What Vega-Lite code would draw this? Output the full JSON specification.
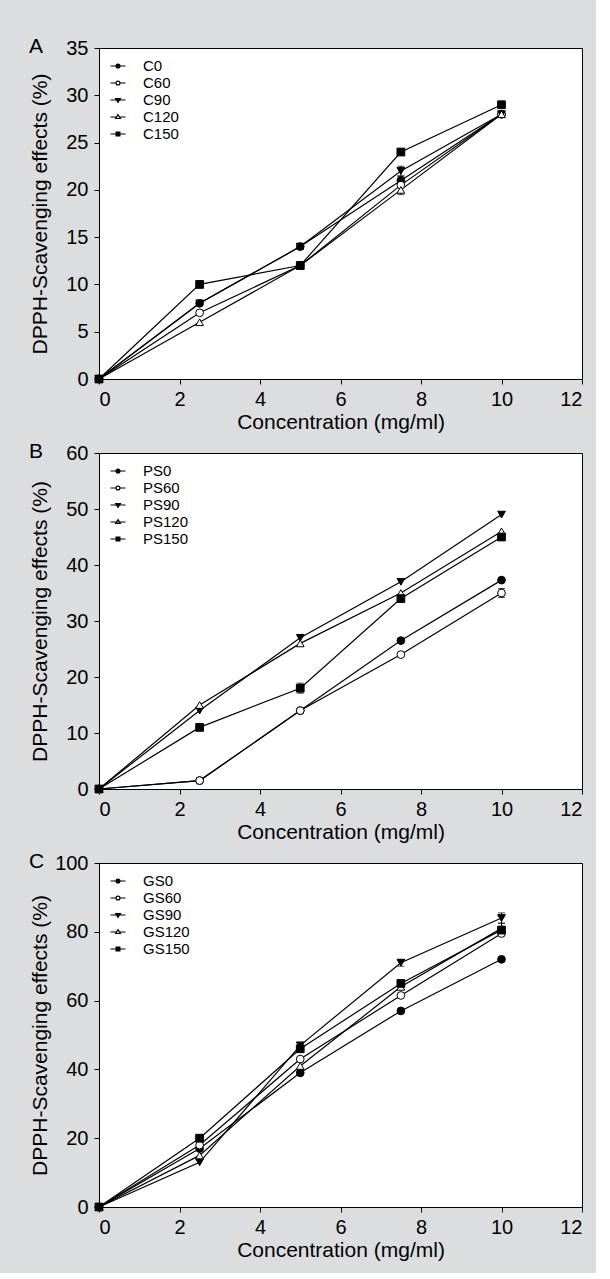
{
  "$schema": "https://vega.github.io/schema/vega-lite/v6.json",
  "background": "#dcdddf",
  "padding": {"left": 28, "top": 35, "right": 13, "bottom": 12},
  "spacing": 7,
  "datasets": {
    "A": [
      {"conc": 0, "y": 0, "s": "C0", "err": 0}, {"conc": 2.5, "y": 8, "s": "C0", "err": 0}, {"conc": 5, "y": 14, "s": "C0", "err": 0.3}, {"conc": 7.5, "y": 21, "s": "C0", "err": 0.4}, {"conc": 10, "y": 28, "s": "C0", "err": 0},
      {"conc": 0, "y": 0, "s": "C60", "err": 0}, {"conc": 2.5, "y": 7, "s": "C60", "err": 0}, {"conc": 5, "y": 12, "s": "C60", "err": 0}, {"conc": 7.5, "y": 20.5, "s": "C60", "err": 0}, {"conc": 10, "y": 28, "s": "C60", "err": 0},
      {"conc": 0, "y": 0, "s": "C90", "err": 0}, {"conc": 2.5, "y": 8, "s": "C90", "err": 0}, {"conc": 5, "y": 14, "s": "C90", "err": 0}, {"conc": 7.5, "y": 22, "s": "C90", "err": 0.5}, {"conc": 10, "y": 28, "s": "C90", "err": 0},
      {"conc": 0, "y": 0, "s": "C120", "err": 0}, {"conc": 2.5, "y": 6, "s": "C120", "err": 0}, {"conc": 5, "y": 12, "s": "C120", "err": 0}, {"conc": 7.5, "y": 20, "s": "C120", "err": 0.5}, {"conc": 10, "y": 28, "s": "C120", "err": 0},
      {"conc": 0, "y": 0, "s": "C150", "err": 0}, {"conc": 2.5, "y": 10, "s": "C150", "err": 0}, {"conc": 5, "y": 12, "s": "C150", "err": 0.4}, {"conc": 7.5, "y": 24, "s": "C150", "err": 0}, {"conc": 10, "y": 29, "s": "C150", "err": 0}
    ],
    "B": [
      {"conc": 0, "y": 0, "s": "PS0", "err": 0}, {"conc": 2.5, "y": 1.5, "s": "PS0", "err": 0}, {"conc": 5, "y": 14, "s": "PS0", "err": 0}, {"conc": 7.5, "y": 26.5, "s": "PS0", "err": 0}, {"conc": 10, "y": 37.3, "s": "PS0", "err": 0},
      {"conc": 0, "y": 0, "s": "PS60", "err": 0}, {"conc": 2.5, "y": 1.5, "s": "PS60", "err": 0}, {"conc": 5, "y": 14, "s": "PS60", "err": 0}, {"conc": 7.5, "y": 24, "s": "PS60", "err": 0}, {"conc": 10, "y": 35, "s": "PS60", "err": 0.8},
      {"conc": 0, "y": 0, "s": "PS90", "err": 0}, {"conc": 2.5, "y": 14, "s": "PS90", "err": 0}, {"conc": 5, "y": 27, "s": "PS90", "err": 0}, {"conc": 7.5, "y": 37, "s": "PS90", "err": 0}, {"conc": 10, "y": 49, "s": "PS90", "err": 0},
      {"conc": 0, "y": 0, "s": "PS120", "err": 0}, {"conc": 2.5, "y": 15, "s": "PS120", "err": 0}, {"conc": 5, "y": 26, "s": "PS120", "err": 0}, {"conc": 7.5, "y": 35, "s": "PS120", "err": 0}, {"conc": 10, "y": 46, "s": "PS120", "err": 0},
      {"conc": 0, "y": 0, "s": "PS150", "err": 0}, {"conc": 2.5, "y": 11, "s": "PS150", "err": 0}, {"conc": 5, "y": 18, "s": "PS150", "err": 0.9}, {"conc": 7.5, "y": 34, "s": "PS150", "err": 0}, {"conc": 10, "y": 45, "s": "PS150", "err": 0.5}
    ],
    "C": [
      {"conc": 0, "y": 0, "s": "GS0", "err": 0}, {"conc": 2.5, "y": 17, "s": "GS0", "err": 0}, {"conc": 5, "y": 39, "s": "GS0", "err": 0}, {"conc": 7.5, "y": 57, "s": "GS0", "err": 0}, {"conc": 10, "y": 72, "s": "GS0", "err": 0},
      {"conc": 0, "y": 0, "s": "GS60", "err": 0}, {"conc": 2.5, "y": 18, "s": "GS60", "err": 0}, {"conc": 5, "y": 43, "s": "GS60", "err": 0}, {"conc": 7.5, "y": 61.5, "s": "GS60", "err": 0}, {"conc": 10, "y": 79.5, "s": "GS60", "err": 0},
      {"conc": 0, "y": 0, "s": "GS90", "err": 0}, {"conc": 2.5, "y": 13, "s": "GS90", "err": 0}, {"conc": 5, "y": 47, "s": "GS90", "err": 0}, {"conc": 7.5, "y": 71, "s": "GS90", "err": 1}, {"conc": 10, "y": 84, "s": "GS90", "err": 1.5},
      {"conc": 0, "y": 0, "s": "GS120", "err": 0}, {"conc": 2.5, "y": 15, "s": "GS120", "err": 0}, {"conc": 5, "y": 41, "s": "GS120", "err": 0}, {"conc": 7.5, "y": 64, "s": "GS120", "err": 0}, {"conc": 10, "y": 81, "s": "GS120", "err": 1.5},
      {"conc": 0, "y": 0, "s": "GS150", "err": 0}, {"conc": 2.5, "y": 20, "s": "GS150", "err": 0}, {"conc": 5, "y": 46, "s": "GS150", "err": 0}, {"conc": 7.5, "y": 65, "s": "GS150", "err": 0}, {"conc": 10, "y": 80.5, "s": "GS150", "err": 0}
    ]
  },
  "vconcat": [
    {
      "title": {"text": "A", "anchor": "start", "frame": "bounds", "dy": 22.5},
      "width": 483, "height": 331,
      "data": {"name": "A"},
      "encoding": {
        "x": {"field": "conc", "type": "quantitative", "scale": {"domain": [0, 12], "nice": false}, "axis": {"values": [0, 2, 4, 6, 8, 10, 12], "title": "Concentration (mg/ml)"}},
        "y": {"field": "y", "type": "quantitative", "scale": {"domain": [0, 35], "nice": false}, "axis": {"values": [0, 5, 10, 15, 20, 25, 30, 35], "title": "DPPH-Scavenging effects (%)"}}
      },
      "layer": [
        {"mark": {"type": "line", "color": "black", "strokeWidth": 1.2}, "encoding": {"detail": {"field": "s"}}},
        {"transform": [{"filter": "datum.err > 0"}], "mark": {"type": "errorbar", "ticks": {"size": 7, "color": "black"}, "rule": {"color": "black"}}, "encoding": {"yError": {"field": "err"}}},
        {"mark": {"type": "point", "size": 60, "stroke": "black", "strokeWidth": 1, "opacity": 1},
         "encoding": {
           "shape": {"condition": [{"test": "datum.s === 'C90'", "value": "triangle-down"}, {"test": "datum.s === 'C120'", "value": "triangle-up"}, {"test": "datum.s === 'C150'", "value": "square"}], "value": "circle"},
           "fill": {"condition": {"test": "datum.s === 'C60' || datum.s === 'C120'", "value": "white"}, "value": "black"}
         }},
        {"transform": [{"filter": "datum.conc > 100"}],
         "mark": {"type": "point", "strokeWidth": 1.2, "opacity": 1},
         "encoding": {
           "shape": {"field": "s", "title": null, "scale": {"domain": ["C0", "C60", "C90", "C120", "C150"], "range": [
             "M-0.94,0H-0.245M0.245,0H0.94M0.245,0A0.245,0.245 0 1,1 -0.245,0A0.245,0.245 0 1,1 0.245,0Z",
             "M-0.94,0H-0.245M0.245,0H0.94M0.245,0A0.245,0.245 0 1,1 -0.245,0A0.245,0.245 0 1,1 0.245,0Z",
             "M-0.94,0H-0.17M0.17,0H0.94M-0.29,-0.19H0.29L0,0.29Z",
             "M-0.94,0H-0.17M0.17,0H0.94M-0.29,0.19H0.29L0,-0.29Z",
             "M-0.94,0H-0.235M0.235,0H0.94M-0.235,-0.235H0.235V0.235H-0.235Z"]}},
           "fill": {"field": "s", "title": null, "scale": {"domain": ["C0", "C60", "C90", "C120", "C150"], "range": ["black", "white", "black", "white", "black"]}},
           "stroke": {"field": "s", "title": null, "scale": {"domain": ["C0", "C60", "C90", "C120", "C150"], "range": ["black", "black", "black", "black", "black"]}}
         }}
      ]
    },
    {
      "title": {"text": "B", "anchor": "start", "frame": "bounds", "dy": 22.5},
      "width": 483, "height": 336,
      "data": {"name": "B"},
      "encoding": {
        "x": {"field": "conc", "type": "quantitative", "scale": {"domain": [0, 12], "nice": false}, "axis": {"values": [0, 2, 4, 6, 8, 10, 12], "title": "Concentration (mg/ml)"}},
        "y": {"field": "y", "type": "quantitative", "scale": {"domain": [0, 60], "nice": false}, "axis": {"values": [0, 10, 20, 30, 40, 50, 60], "title": "DPPH-Scavenging effects (%)"}}
      },
      "layer": [
        {"mark": {"type": "line", "color": "black", "strokeWidth": 1.2}, "encoding": {"detail": {"field": "s"}}},
        {"transform": [{"filter": "datum.err > 0"}], "mark": {"type": "errorbar", "ticks": {"size": 7, "color": "black"}, "rule": {"color": "black"}}, "encoding": {"yError": {"field": "err"}}},
        {"mark": {"type": "point", "size": 60, "stroke": "black", "strokeWidth": 1, "opacity": 1},
         "encoding": {
           "shape": {"condition": [{"test": "datum.s === 'PS90'", "value": "triangle-down"}, {"test": "datum.s === 'PS120'", "value": "triangle-up"}, {"test": "datum.s === 'PS150'", "value": "square"}], "value": "circle"},
           "fill": {"condition": {"test": "datum.s === 'PS60' || datum.s === 'PS120'", "value": "white"}, "value": "black"}
         }},
        {"transform": [{"filter": "datum.conc > 100"}],
         "mark": {"type": "point", "strokeWidth": 1.2, "opacity": 1},
         "encoding": {
           "shape": {"field": "s", "title": null, "scale": {"domain": ["PS0", "PS60", "PS90", "PS120", "PS150"], "range": [
             "M-0.94,0H-0.245M0.245,0H0.94M0.245,0A0.245,0.245 0 1,1 -0.245,0A0.245,0.245 0 1,1 0.245,0Z",
             "M-0.94,0H-0.245M0.245,0H0.94M0.245,0A0.245,0.245 0 1,1 -0.245,0A0.245,0.245 0 1,1 0.245,0Z",
             "M-0.94,0H-0.17M0.17,0H0.94M-0.29,-0.19H0.29L0,0.29Z",
             "M-0.94,0H-0.17M0.17,0H0.94M-0.29,0.19H0.29L0,-0.29Z",
             "M-0.94,0H-0.235M0.235,0H0.94M-0.235,-0.235H0.235V0.235H-0.235Z"]}},
           "fill": {"field": "s", "title": null, "scale": {"domain": ["PS0", "PS60", "PS90", "PS120", "PS150"], "range": ["black", "white", "black", "#8a8a8a", "black"]}},
           "stroke": {"field": "s", "title": null, "scale": {"domain": ["PS0", "PS60", "PS90", "PS120", "PS150"], "range": ["black", "black", "black", "black", "black"]}}
         }}
      ]
    },
    {
      "title": {"text": "C", "anchor": "start", "frame": "bounds", "dy": 22.5},
      "width": 483, "height": 344,
      "data": {"name": "C"},
      "encoding": {
        "x": {"field": "conc", "type": "quantitative", "scale": {"domain": [0, 12], "nice": false}, "axis": {"values": [0, 2, 4, 6, 8, 10, 12], "title": "Concentration (mg/ml)"}},
        "y": {"field": "y", "type": "quantitative", "scale": {"domain": [0, 100], "nice": false}, "axis": {"values": [0, 20, 40, 60, 80, 100], "title": "DPPH-Scavenging effects (%)"}}
      },
      "layer": [
        {"mark": {"type": "line", "color": "black", "strokeWidth": 1.2}, "encoding": {"detail": {"field": "s"}}},
        {"transform": [{"filter": "datum.err > 0"}], "mark": {"type": "errorbar", "ticks": {"size": 7, "color": "black"}, "rule": {"color": "black"}}, "encoding": {"yError": {"field": "err"}}},
        {"mark": {"type": "point", "size": 60, "stroke": "black", "strokeWidth": 1, "opacity": 1},
         "encoding": {
           "shape": {"condition": [{"test": "datum.s === 'GS90'", "value": "triangle-down"}, {"test": "datum.s === 'GS120'", "value": "triangle-up"}, {"test": "datum.s === 'GS150'", "value": "square"}], "value": "circle"},
           "fill": {"condition": {"test": "datum.s === 'GS60' || datum.s === 'GS120'", "value": "white"}, "value": "black"}
         }},
        {"transform": [{"filter": "datum.conc > 100"}],
         "mark": {"type": "point", "strokeWidth": 1.2, "opacity": 1},
         "encoding": {
           "shape": {"field": "s", "title": null, "scale": {"domain": ["GS0", "GS60", "GS90", "GS120", "GS150"], "range": [
             "M-0.94,0H-0.245M0.245,0H0.94M0.245,0A0.245,0.245 0 1,1 -0.245,0A0.245,0.245 0 1,1 0.245,0Z",
             "M-0.94,0H-0.245M0.245,0H0.94M0.245,0A0.245,0.245 0 1,1 -0.245,0A0.245,0.245 0 1,1 0.245,0Z",
             "M-0.94,0H-0.17M0.17,0H0.94M-0.29,-0.19H0.29L0,0.29Z",
             "M-0.94,0H-0.17M0.17,0H0.94M-0.29,0.19H0.29L0,-0.29Z",
             "M-0.94,0H-0.235M0.235,0H0.94M-0.235,-0.235H0.235V0.235H-0.235Z"]}},
           "fill": {"field": "s", "title": null, "scale": {"domain": ["GS0", "GS60", "GS90", "GS120", "GS150"], "range": ["black", "white", "black", "white", "black"]}},
           "stroke": {"field": "s", "title": null, "scale": {"domain": ["GS0", "GS60", "GS90", "GS120", "GS150"], "range": ["black", "black", "black", "black", "black"]}}
         }}
      ]
    }
  ],
  "resolve": {"scale": {"shape": "independent", "fill": "independent", "stroke": "independent"}, "legend": {"shape": "independent", "fill": "independent", "stroke": "independent"}},
  "config": {
    "font": "Liberation Sans",
    "view": {"fill": "white", "stroke": "black", "strokeWidth": 1},
    "title": {"fontSize": 21, "fontWeight": "normal", "color": "black"},
    "axis": {"grid": false, "domainColor": "black", "tickColor": "black", "tickSize": 5, "labelColor": "black", "titleColor": "black", "labelFontSize": 20, "titleFontSize": 21, "titleFontWeight": "normal", "labelPadding": 5, "titlePadding": 2},
    "axisY": {"titleX": -49, "labelPadding": 6},
    "legend": {"orient": "none", "legendX": 10, "legendY": 9, "symbolSize": 256, "labelFontSize": 15, "labelColor": "black", "labelOffset": 16, "rowPadding": 0, "symbolStrokeWidth": 1.2, "padding": 0}
  }
}
